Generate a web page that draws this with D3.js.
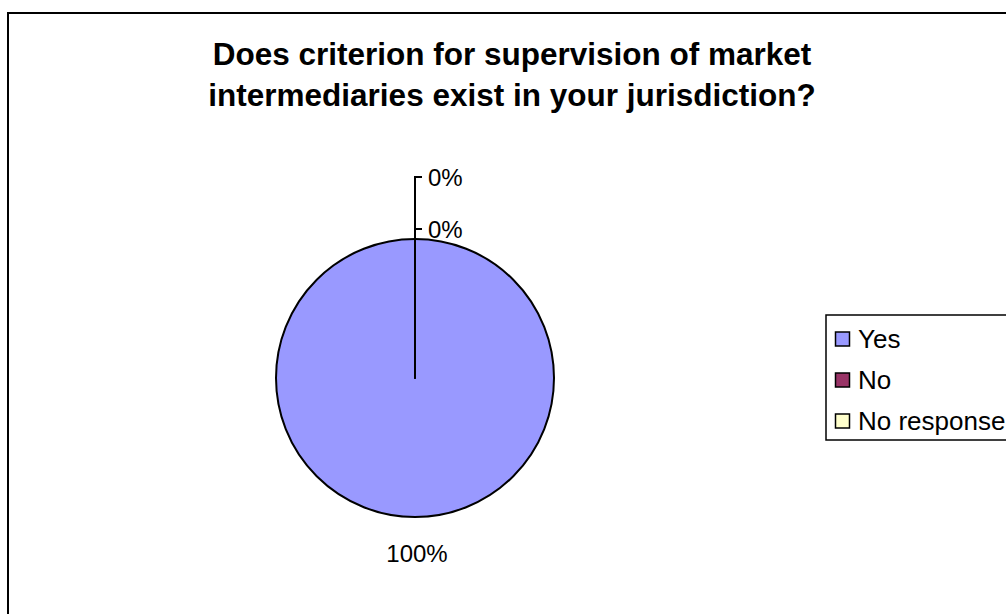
<!DOCTYPE html>
<html>
<head>
<meta charset="utf-8">
<script src="https://cdn.jsdelivr.net/npm/d3@7"></script>
<style>
  html, body { margin: 0; padding: 0; background: #fff; }
  svg { display: block; font-family: "Liberation Sans", Arial, sans-serif; }
</style>
</head>
<body>
<svg id="chart" width="1006" height="614"></svg>
<script>
// Survey answers
const categories = ["Yes", "No", "No response"];
const values = [100, 0, 0];
const colors = ["#9999FF", "#993366", "#FFFFCC"];
const titleLines = ["Does criterion for supervision of market", "intermediaries exist in your jurisdiction?"];

const svg = d3.select("#chart");

// Chart area frame (runs off the right and bottom edges)
svg.append("rect")
  .attr("x", 8).attr("y", 13)
  .attr("width", 1100).attr("height", 700)
  .attr("fill", "#fff").attr("stroke", "#000").attr("stroke-width", 2);

// Title
const title = svg.append("text")
  .attr("text-anchor", "middle")
  .attr("font-weight", "bold")
  .attr("font-size", 31.5)
  .attr("fill", "#000");
titleLines.forEach((t, i) => {
  title.append("tspan").attr("x", 512).attr("y", 65 + i * 41).text(t);
});

// Pie
const cx = 415, cy = 378, r = 139;
const total = d3.sum(values);
const pie = d3.pie().sort(null).value(d => d.value);
const arcs = pie(categories.map((c, i) => ({ cat: c, value: values[i], color: colors[i] })));
const arc = d3.arc().innerRadius(0).outerRadius(r);

const g = svg.append("g").attr("transform", `translate(${cx},${cy})`);
g.selectAll("path.slice")
  .data(arcs)
  .join("path")
  .attr("class", "slice")
  .attr("d", arc)
  .attr("fill", d => d.data.color)
  .attr("stroke", "#000")
  .attr("stroke-width", 2)
  .attr("stroke-linejoin", "round");

// Percentage labels
const fmt = v => Math.round(v / total * 100) + "%";
const labelArc = d3.arc().innerRadius(r + 36).outerRadius(r + 36);
let stack = 0;
arcs.forEach(d => {
  if (d.value > 0) {
    const [lx, ly] = labelArc.centroid(d);
    g.append("text")
      .attr("x", lx + 2).attr("y", ly + 9)
      .attr("text-anchor", "middle")
      .attr("font-size", 24)
      .text(fmt(d.value));
  } else {
    // zero-width slices: labels stacked above the slice edge with a leader line
    const a = d.startAngle;
    const ex = Math.sin(a) * r, ey = -Math.cos(a) * r;
    stack += 1;
    const ty = ey - 10 - (stack - 1) * 52;
    g.append("path")
      .attr("d", `M${ex},${ey} L${ex},${ty} L${ex + 7},${ty}`)
      .attr("fill", "none").attr("stroke", "#000").attr("stroke-width", 2);
    g.append("text")
      .attr("x", ex + 13).attr("y", ty + 9)
      .attr("font-size", 24)
      .text(fmt(d.value));
  }
});

// Legend
const lg = svg.append("g").attr("transform", "translate(826,315)");
lg.append("rect")
  .attr("x", 0).attr("y", 0).attr("width", 300).attr("height", 125)
  .attr("fill", "#fff").attr("stroke", "#000").attr("stroke-width", 1.5);
const item = lg.selectAll("g.item")
  .data(categories)
  .join("g")
  .attr("class", "item")
  .attr("transform", (d, i) => `translate(0,${24 + i * 41})`);
item.append("rect")
  .attr("x", 9.5).attr("y", -7).attr("width", 14).attr("height", 14)
  .attr("fill", (d, i) => colors[i]).attr("stroke", "#000").attr("stroke-width", 1.5);
item.append("text")
  .attr("x", 32).attr("y", 9)
  .attr("font-size", 26)
  .text(d => d);
</script>
</body>
</html>
